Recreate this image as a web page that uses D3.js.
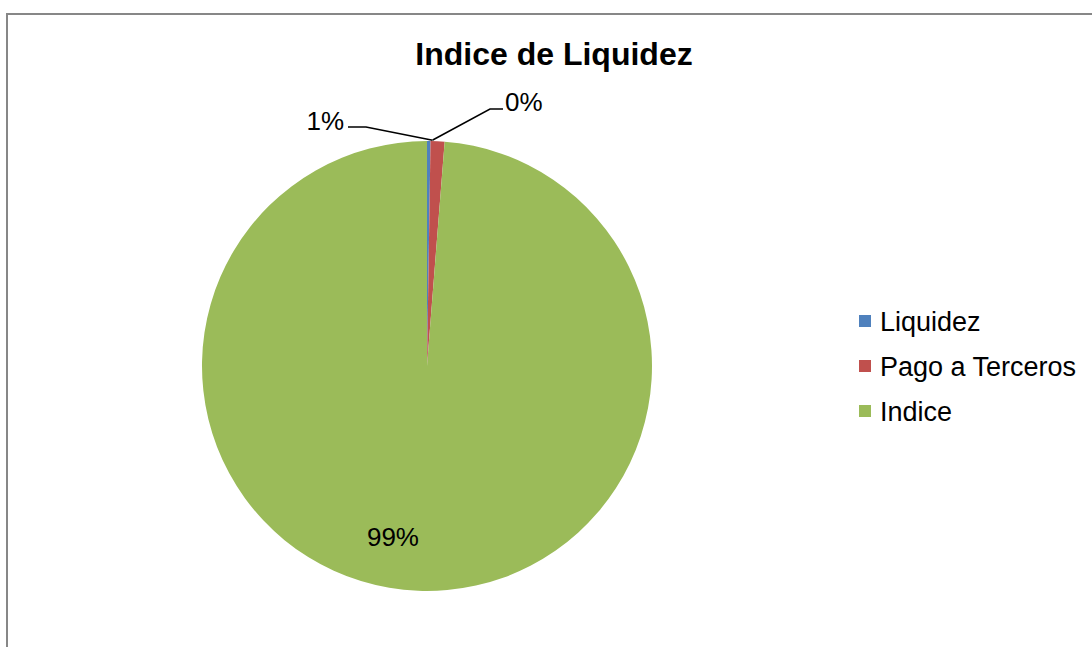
<!DOCTYPE html>
<html><head><meta charset="utf-8">
<script src="https://cdn.jsdelivr.net/npm/d3@7"></script>
<style>body{margin:0;background:#fff;}svg{display:block;font-family:"Liberation Sans",Arial,sans-serif;}</style>
</head><body>
<svg id="c" width="1092" height="647"></svg>
<script>
const categories = ["Liquidez", "Pago a Terceros", "Indice"];
const values = [0.25, 1.0, 98.75];
const labels = ["0%", "1%", "99%"];
const colors = ["#4F81BD", "#C0504D", "#9BBB59"];
const title = "Indice de Liquidez";

const svg = d3.select("#c");
svg.append("rect").attr("x", 7).attr("y", 14).attr("width", 1100).attr("height", 700)
  .attr("fill", "#fff").attr("stroke", "#878787").attr("stroke-width", 2);

svg.append("text").attr("x", 554).attr("y", 65).attr("text-anchor", "middle")
  .attr("font-size", 32).attr("font-weight", "bold").text(title);

const cx = 427, cy = 366, r = 225;
const g = svg.append("g").attr("transform", `translate(${cx},${cy})`);
const pie = d3.pie().sort(null).value(d => d)(values);
const arc = d3.arc().innerRadius(0).outerRadius(r);
g.selectAll("path").data(pie).join("path").attr("d", arc).attr("fill", (d, i) => colors[i]);

// label for big slice inside
const inner = d3.arc().innerRadius(r * 0.8).outerRadius(r * 0.8);
const c2 = inner.centroid(pie[2]);
g.append("text").attr("x", c2[0] - 27).attr("y", c2[1] + 0).attr("text-anchor", "middle")
  .attr("font-size", 26).text(labels[2]);

// leader labels for tiny slices
const edge = d3.arc().innerRadius(r + 1).outerRadius(r + 1);
const a1 = edge.centroid(pie[1]);
const a0 = edge.centroid(pie[0]);
// "1%" (Pago a Terceros) on left
g.append("polyline").attr("points", [[a1[0] - 5, a1[1]], [-61, -239], [-79, -239]].map(p => p.join(",")).join(" "))
  .attr("fill", "none").attr("stroke", "#000").attr("stroke-width", 1.5);
g.append("text").attr("x", -83).attr("y", -236).attr("text-anchor", "end").attr("font-size", 26).text(labels[1]);
// "0%" (Liquidez) on right
g.append("polyline").attr("points", [[a0[0] + 4, a0[1]], [63, -257], [76, -257]].map(p => p.join(",")).join(" "))
  .attr("fill", "none").attr("stroke", "#000").attr("stroke-width", 1.5);
g.append("text").attr("x", 78).attr("y", -255).attr("text-anchor", "start").attr("font-size", 26).text(labels[0]);

// legend
const lg = svg.append("g").attr("transform", "translate(859,321)");
categories.forEach((c, i) => {
  const row = lg.append("g").attr("transform", `translate(0,${i * 45})`);
  row.append("rect").attr("x", 0).attr("y", -6).attr("width", 12).attr("height", 12).attr("fill", colors[i]);
  row.append("text").attr("x", 21).attr("y", 10).attr("font-size", 27).text(c);
});
</script>
</body></html>
